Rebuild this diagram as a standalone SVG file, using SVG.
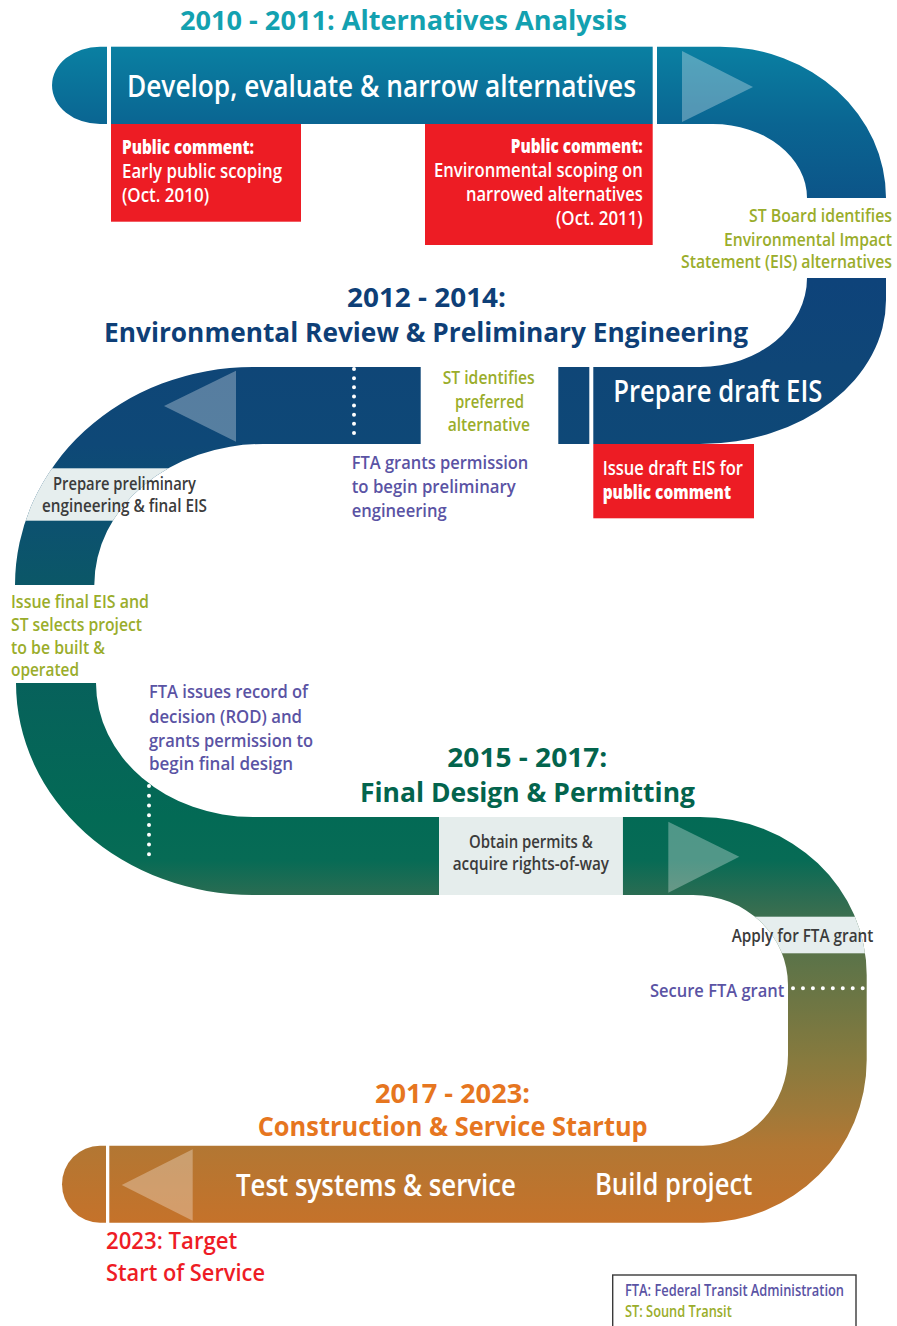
<svg xmlns="http://www.w3.org/2000/svg" width="897" height="1326" viewBox="0 0 897 1326">
  <style>
    text { font-family: "Open Sans", "Noto Sans", "Liberation Sans", sans-serif; }
    .title { font-size: 26px; font-weight: 700; }
    .t-teal { fill: #13a1b0; }
    .t-navy { fill: #0e3f77; }
    .t-green { fill: #03644d; }
    .t-orange { fill: #e6761f; }
    .band-label { font-size: 30px; font-weight: 600; fill: #ffffff; }
    .box-text { font-size: 19px; font-weight: 600; fill: #ffffff; }
    .box-head { font-size: 19px; font-weight: 800; fill: #ffffff; }
    .note { font-size: 18px; font-weight: 600; }
    .olive { fill: #9aad2b; }
    .purple { fill: #5a53a4; }
    .gray { fill: #3b3b3b; font-size: 17.5px; font-weight: 600; }
    .target { font-size: 23px; font-weight: 600; fill: #ee1c25; }
    .legend { font-size: 16px; font-weight: 600; }
    .red-box { fill: #ed1c24; }
    .slice { fill: #e6eeee; }
    .band { fill: url(#roadFill); }
    .arrow { fill: #ffffff; fill-opacity: 0.3; }
    .dots { stroke: #ffffff; stroke-width: 4; stroke-linecap: round; fill: none; }
  </style>
  <defs>
    <linearGradient id="roadFill" gradientUnits="userSpaceOnUse" x1="0" y1="46" x2="0" y2="1223">
      <stop offset="0" stop-color="#0a80a2"/>
      <stop offset="0.0663" stop-color="#0a6592"/>
      <stop offset="0.1308" stop-color="#0c5488"/>
      <stop offset="0.1988" stop-color="#0e437a"/>
      <stop offset="0.2727" stop-color="#0f4677"/>
      <stop offset="0.3381" stop-color="#0e4877"/>
      <stop offset="0.4027" stop-color="#0c5170"/>
      <stop offset="0.4579" stop-color="#0b5767"/>
      <stop offset="0.5412" stop-color="#07615b"/>
      <stop offset="0.6551" stop-color="#036a55"/>
      <stop offset="0.6916" stop-color="#076b55"/>
      <stop offset="0.7213" stop-color="#2a6c52"/>
      <stop offset="0.7706" stop-color="#5a7349"/>
      <stop offset="0.8105" stop-color="#6d7644"/>
      <stop offset="0.8615" stop-color="#877a3e"/>
      <stop offset="0.9065" stop-color="#a07939"/>
      <stop offset="0.9337" stop-color="#b27733"/>
      <stop offset="1" stop-color="#c5722a"/>
    </linearGradient>
    <clipPath id="clipLeftBend">
      <path d="M420.7,367 H253 A238,218 0 0 0 15,585 H94.3 A168.7,141 0 0 1 263,444 H420.7 Z"/>
    </clipPath>
    <clipPath id="clipRightBend">
      <path d="M622.7,817 H700 A166.7,158 0 0 1 866.7,975 V1060 A163.7,162.7 0 0 1 703,1222.7 H109.3 V1145.7 H703 A85,90.7 0 0 0 788,1055 V985 A95,90 0 0 0 693,895 H622.7 Z"/>
    </clipPath>
  </defs>

  <rect x="0" y="0" width="897" height="1326" fill="#ffffff"/>

  <!-- the winding road and its milestone ticks -->
  <g id="connectors">
    <path class="band" d="M107,46.7 H100 A48,38.65 0 0 0 100,124 H107 Z"/>
    <rect class="band" x="111" y="46.7" width="541.7" height="77.3"/>
    <path class="band" d="M657,46.7 H720 A166,151.3 0 0 1 886,198 H807 A94,74 0 0 0 713,124 H657 Z"/>
    <path class="band" d="M593.3,367 H700 A107,89 0 0 0 807,278 H886 V300 A186,144 0 0 1 700,444 H593.3 Z"/>
    <rect class="band" x="558.3" y="367" width="31" height="77"/>
    <path class="band" d="M420.7,367 H253 A238,218 0 0 0 15,585 H94.3 A168.7,141 0 0 1 263,444 H420.7 Z"/>
    <path class="band" d="M16,683 H96 A157,134 0 0 0 253,817 H439 V895 H253 A237,212 0 0 1 16,683 Z"/>
    <path class="band" d="M622.7,817 H700 A166.7,158 0 0 1 866.7,975 V1060 A163.7,162.7 0 0 1 703,1222.7 H109.3 V1145.7 H703 A85,90.7 0 0 0 788,1055 V985 A95,90 0 0 0 693,895 H622.7 Z"/>
    <path class="band" d="M106,1145.7 H100 A38,38.5 0 0 0 100,1222.7 H106 Z"/>

    <!-- direction arrows -->
    <polygon class="arrow" points="682,51 682,122 753,87"/>
    <polygon class="arrow" points="236,370.7 236,441.7 164,406"/>
    <polygon class="arrow" points="668.3,821.7 668.3,892.7 739.3,856.7"/>
    <polygon class="arrow" points="192.7,1149.3 192.7,1220.7 121.7,1185" fill-opacity="0.36"/>

    <!-- dotted milestones -->
    <line class="dots" x1="354" y1="369" x2="354" y2="442" stroke-dasharray="0 9.125"/>
    <line class="dots" x1="149" y1="786" x2="149" y2="864" stroke-dasharray="0 9.75"/>
    <line class="dots" x1="793" y1="988.3" x2="862.7" y2="988.3" stroke-dasharray="0 9.957"/>
  </g>

  <!-- phase titles -->
  <g id="phase-2010">
    <text class="title t-teal" x="180" y="30" textLength="447" lengthAdjust="spacingAndGlyphs">2010 - 2011: Alternatives Analysis</text>
  </g>
  <g id="phase-2012">
    <text class="title t-navy" x="347" y="307" textLength="159" lengthAdjust="spacingAndGlyphs">2012 - 2014:</text>
    <text class="title t-navy" x="104" y="341.7" textLength="644" lengthAdjust="spacingAndGlyphs">Environmental Review &amp; Preliminary Engineering</text>
  </g>
  <g id="phase-2015">
    <text class="title t-green" x="447.3" y="766.7" textLength="160" lengthAdjust="spacingAndGlyphs">2015 - 2017:</text>
    <text class="title t-green" x="360" y="801.7" textLength="335" lengthAdjust="spacingAndGlyphs">Final Design &amp; Permitting</text>
  </g>
  <g id="phase-2017">
    <text class="title t-orange" x="375" y="1102.7" textLength="155" lengthAdjust="spacingAndGlyphs">2017 - 2023:</text>
    <text class="title t-orange" x="257.7" y="1136" textLength="390" lengthAdjust="spacingAndGlyphs">Construction &amp; Service Startup</text>
  </g>

  <!-- steps on the road -->
  <g id="develop-alternatives">
    <text class="band-label" x="127" y="96.5" textLength="509" lengthAdjust="spacingAndGlyphs">Develop, evaluate &amp; narrow alternatives</text>
  </g>
  <g id="early-scoping">
    <rect class="red-box" x="111" y="124" width="190" height="97.7"/>
    <text class="box-head" x="122" y="154" textLength="132" lengthAdjust="spacingAndGlyphs">Public comment:</text>
    <text class="box-text" x="122" y="178" textLength="160" lengthAdjust="spacingAndGlyphs">Early public scoping</text>
    <text class="box-text" x="122" y="202" textLength="87" lengthAdjust="spacingAndGlyphs">(Oct. 2010)</text>
  </g>
  <g id="environmental-scoping">
    <rect class="red-box" x="425" y="124" width="227.7" height="121"/>
    <text class="box-head" x="510.7" y="153" textLength="132" lengthAdjust="spacingAndGlyphs">Public comment:</text>
    <text class="box-text" x="434" y="177" textLength="208.7" lengthAdjust="spacingAndGlyphs">Environmental scoping on</text>
    <text class="box-text" x="466" y="201" textLength="176.7" lengthAdjust="spacingAndGlyphs">narrowed alternatives</text>
    <text class="box-text" x="556" y="225" textLength="86.7" lengthAdjust="spacingAndGlyphs">(Oct. 2011)</text>
  </g>
  <g id="board-identifies">
    <text class="note olive" x="892" y="222" text-anchor="end" textLength="143" lengthAdjust="spacingAndGlyphs">ST Board identifies</text>
    <text class="note olive" x="892" y="245.7" text-anchor="end" textLength="168" lengthAdjust="spacingAndGlyphs">Environmental Impact</text>
    <text class="note olive" x="892" y="268" text-anchor="end" textLength="211" lengthAdjust="spacingAndGlyphs">Statement (EIS) alternatives</text>
  </g>
  <g id="draft-eis">
    <text class="band-label" x="613.3" y="401.7" textLength="209" lengthAdjust="spacingAndGlyphs">Prepare draft EIS</text>
  </g>
  <g id="issue-draft-eis">
    <rect class="red-box" x="593.3" y="444" width="160.7" height="74.3"/>
    <text class="box-text" x="602.7" y="475" textLength="140.3" lengthAdjust="spacingAndGlyphs">Issue draft EIS for</text>
    <text class="box-head" x="602.7" y="499.3" textLength="128.3" lengthAdjust="spacingAndGlyphs">public comment</text>
  </g>
  <g id="preferred-alternative">
    <text class="note olive" x="442.7" y="384" textLength="92" lengthAdjust="spacingAndGlyphs">ST identifies</text>
    <text class="note olive" x="455" y="408.3" textLength="69" lengthAdjust="spacingAndGlyphs">preferred</text>
    <text class="note olive" x="447.7" y="430.7" textLength="82.3" lengthAdjust="spacingAndGlyphs">alternative</text>
  </g>
  <g id="permission-preliminary">
    <text class="note purple" x="351.7" y="469" textLength="176.6" lengthAdjust="spacingAndGlyphs">FTA grants permission</text>
    <text class="note purple" x="351.7" y="493.3" textLength="164" lengthAdjust="spacingAndGlyphs">to begin preliminary</text>
    <text class="note purple" x="351.7" y="517" textLength="95" lengthAdjust="spacingAndGlyphs">engineering</text>
  </g>
  <g id="preliminary-engineering">
    <rect class="slice" x="0" y="468.3" width="300" height="52.4" clip-path="url(#clipLeftBend)"/>
    <text class="gray" x="53" y="490" textLength="143" lengthAdjust="spacingAndGlyphs">Prepare preliminary</text>
    <text class="gray" x="42" y="511.7" textLength="165" lengthAdjust="spacingAndGlyphs">engineering &amp; final EIS</text>
  </g>
  <g id="final-eis">
    <text class="note olive" x="11" y="608.3" textLength="138" lengthAdjust="spacingAndGlyphs">Issue final EIS and</text>
    <text class="note olive" x="11" y="631" textLength="131" lengthAdjust="spacingAndGlyphs">ST selects project</text>
    <text class="note olive" x="11" y="654" textLength="94" lengthAdjust="spacingAndGlyphs">to be built &amp;</text>
    <text class="note olive" x="11" y="676" textLength="68" lengthAdjust="spacingAndGlyphs">operated</text>
  </g>
  <g id="record-of-decision">
    <text class="note purple" x="149" y="698.3" textLength="159" lengthAdjust="spacingAndGlyphs">FTA issues record of</text>
    <text class="note purple" x="149" y="723.3" textLength="153" lengthAdjust="spacingAndGlyphs">decision (ROD) and</text>
    <text class="note purple" x="149" y="746.7" textLength="164" lengthAdjust="spacingAndGlyphs">grants permission to</text>
    <text class="note purple" x="149" y="770" textLength="144" lengthAdjust="spacingAndGlyphs">begin final design</text>
  </g>
  <g id="permits">
    <rect x="439" y="817" width="183.7" height="78" fill="#e5edec"/>
    <text class="gray" x="469" y="848.3" textLength="123.7" lengthAdjust="spacingAndGlyphs">Obtain permits &amp;</text>
    <text class="gray" x="452.7" y="870" textLength="156.3" lengthAdjust="spacingAndGlyphs">acquire rights-of-way</text>
  </g>
  <g id="apply-grant">
    <rect class="slice" x="700" y="916.7" width="200" height="36.6" clip-path="url(#clipRightBend)"/>
    <text class="gray" x="731.7" y="941.7" textLength="141.6" lengthAdjust="spacingAndGlyphs">Apply for FTA grant</text>
  </g>
  <g id="secure-grant">
    <text class="note purple" x="650" y="996.7" textLength="134.3" lengthAdjust="spacingAndGlyphs">Secure FTA grant</text>
  </g>
  <g id="test-systems">
    <text class="band-label" x="236" y="1196" textLength="280" lengthAdjust="spacingAndGlyphs">Test systems &amp; service</text>
  </g>
  <g id="build-project">
    <text class="band-label" x="595" y="1195" textLength="157.3" lengthAdjust="spacingAndGlyphs">Build project</text>
  </g>
  <g id="start-of-service">
    <text class="target" x="106" y="1249.3" textLength="131.3" lengthAdjust="spacingAndGlyphs">2023: Target</text>
    <text class="target" x="106" y="1280.7" textLength="159" lengthAdjust="spacingAndGlyphs">Start of Service</text>
  </g>

  <!-- abbreviations -->
  <g id="legend">
    <rect x="612.7" y="1275" width="243.3" height="70" fill="#ffffff" stroke="#3a3a3a" stroke-width="1.4"/>
    <text class="legend purple" x="625" y="1295.7" textLength="219" lengthAdjust="spacingAndGlyphs">FTA: Federal Transit Administration</text>
    <text class="legend olive" x="625" y="1317.3" textLength="106.7" lengthAdjust="spacingAndGlyphs">ST: Sound Transit</text>
  </g>
</svg>
